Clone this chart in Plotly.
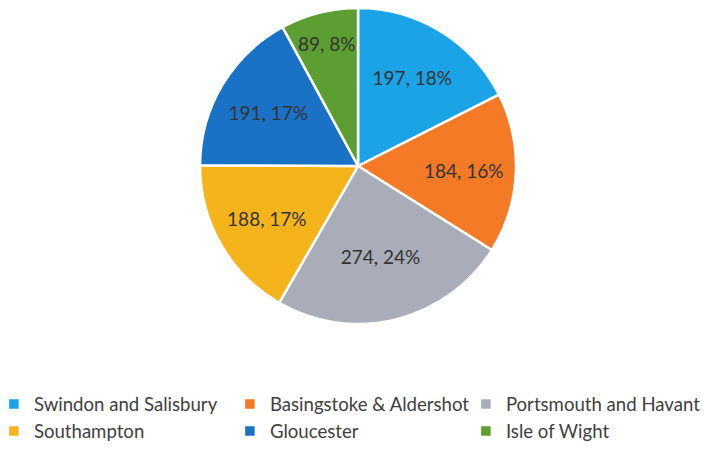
import plotly.graph_objects as go

labels = ["Swindon and Salisbury", "Basingstoke & Aldershot", "Portsmouth and Havant",
          "Southampton", "Gloucester", "Isle of Wight"]
values = [197, 184, 274, 188, 191, 89]
colors = ["#1AA3E6", "#F47A25", "#A9ACB9", "#F5B31C", "#1A72C6", "#5C9E32"]

fig = go.Figure(go.Pie(
    labels=labels, values=values, sort=False, direction="clockwise", rotation=0,
    marker=dict(colors=colors, line=dict(color="white", width=2.5)),
    texttemplate="%{value}, %{percent:.0%}", textposition="inside",
    insidetextorientation="horizontal",
    textfont=dict(family="Lato", size=19, color="#333333"),
    hoverinfo="label+value+percent",
    domain=dict(x=[0, 0.993], y=[0, 1]),
))
fig.update_layout(
    width=705, height=446,
    margin=dict(l=0, r=0, t=0, b=130, autoexpand=False),
    paper_bgcolor="white",
    font=dict(family="Lato", size=19, color="#404040"),
    showlegend=True,
    legend=dict(orientation="h", x=-0.02, xanchor="left", y=-0.194, yanchor="top",
                entrywidth=191, entrywidthmode="pixels", itemwidth=30,
                font=dict(family="Lato", size=18.6, color="#404040")),
    uniformtext=dict(minsize=19, mode="show"),
)
fig.write_html("out.html")
